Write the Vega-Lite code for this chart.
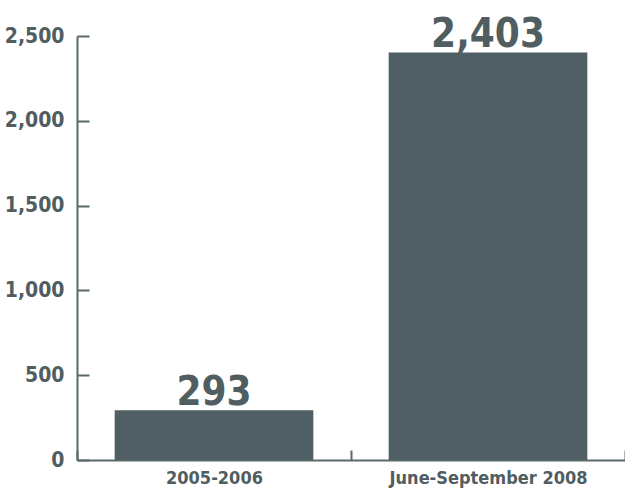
{
  "$schema": "https://vega.github.io/schema/vega-lite/v6.json",
  "width": 548,
  "height": 424,
  "padding": {"left": 77, "top": 36, "right": 0, "bottom": 30},
  "autosize": {"type": "none"},
  "background": "white",
  "config": {
    "view": {"stroke": null},
    "font": "DejaVu Sans Condensed, sans-serif"
  },
  "data": {
    "values": [
      {"period": "2005-2006", "count": 293},
      {"period": "June-September 2008", "count": 2403}
    ]
  },
  "encoding": {
    "x": {
      "field": "period",
      "type": "nominal",
      "sort": null,
      "scale": {"paddingInner": 0, "paddingOuter": 0},
      "axis": {
        "title": null,
        "labelAngle": 0,
        "labelLimit": 0,
        "labelFont": "DejaVu Sans Condensed, sans-serif",
        "labelFontSize": 18,
        "labelFontWeight": "bold",
        "labelColor": "#505d61",
        "labelPadding": 19,
        "domainColor": "#5b686c",
        "domainWidth": 2,
        "tickColor": "#5b686c",
        "tickWidth": 2,
        "tickSize": -10,
        "tickBand": "extent",
        "grid": false
      }
    },
    "y": {
      "field": "count",
      "type": "quantitative",
      "scale": {"domain": [0, 2500], "nice": false},
      "axis": {
        "title": null,
        "values": [0, 500, 1000, 1500, 2000, 2500],
        "format": ",.0f",
        "labelFont": "DejaVu Sans Condensed, sans-serif",
        "labelFontSize": 21,
        "labelFontWeight": "bold",
        "labelColor": "#505d61",
        "labelPadding": 25,
        "domainColor": "#5b686c",
        "domainWidth": 2,
        "tickColor": "#5b686c",
        "tickWidth": 2,
        "tickSize": -12,
        "grid": false
      }
    }
  },
  "layer": [
    {"mark": {"type": "bar", "color": "#505f64", "width": {"band": 0.725}}},
    {
      "mark": {
        "type": "text",
        "baseline": "alphabetic",
        "dy": -5,
        "fontSize": 40,
        "fontWeight": "bold",
        "color": "#505d61",
        "font": "DejaVu Sans Condensed, sans-serif"
      },
      "encoding": {
        "text": {"field": "count", "type": "quantitative", "format": ",.0f"}
      }
    }
  ]
}
